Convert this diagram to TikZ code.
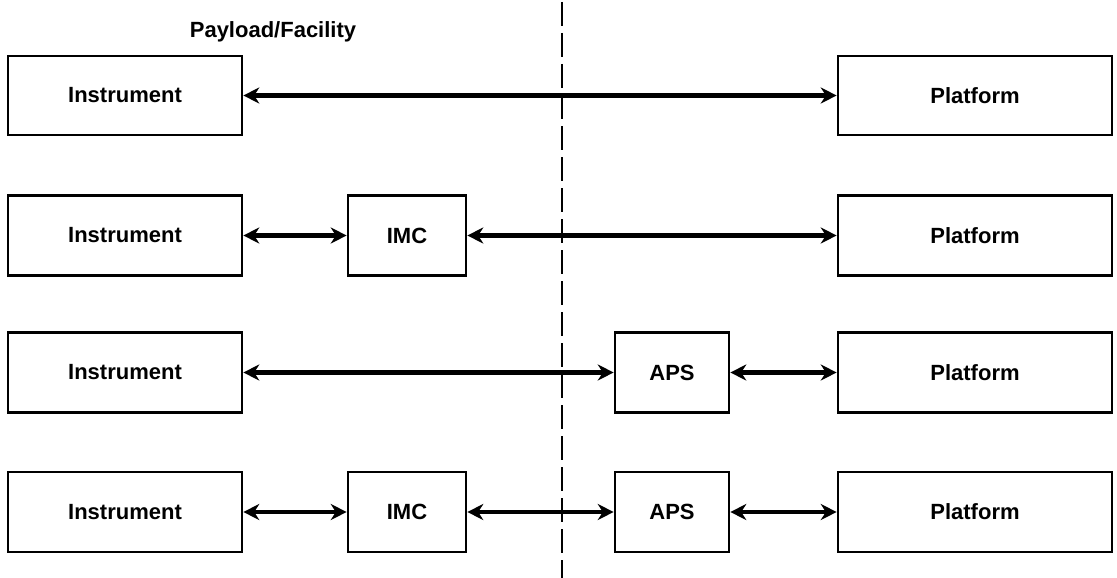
\documentclass[tikz,border=0pt]{standalone}
\usepackage{fontspec}
\setmainfont{Liberation Sans}
\usetikzlibrary{arrows.meta}
\begin{document}
\begin{tikzpicture}[x=1pt,y=-1pt,
  box/.style={draw,line width=2.6pt,inner sep=0pt,font=\fontsize{22}{26}\selectfont\bfseries},
  link/.style={line width=4.5pt,{Stealth[length=16pt,width=16pt]}-{Stealth[length=16pt,width=16pt]}}]
\useasboundingbox (0,0) rectangle (1117,578);
% divider
\coordinate (dtop) at (562,2);
\coordinate (dbot) at (562,578);
\draw[line width=2.6pt,dash pattern=on 24pt off 7pt] (dtop) -- (dbot);
\node[font=\fontsize{22}{26}\selectfont\bfseries] (title) at (273,32) {Payload/Facility};
% row 1
\node[box,minimum width=234pt,minimum height=79pt] (i1) at (125,95.5) {Instrument};
\node[box,minimum width=274pt,minimum height=79pt] (p1) at (975,95.5) {Platform};
% row 2
\node[box,minimum width=234pt,minimum height=80pt] (i2) at (125,235.5) {Instrument};
\node[box,minimum width=118pt,minimum height=80pt] (m2) at (407,235.5) {IMC};
\node[box,minimum width=274pt,minimum height=80pt] (p2) at (975,235.5) {Platform};
% row 3
\node[box,minimum width=234pt,minimum height=80pt] (i3) at (125,372.5) {Instrument};
\node[box,minimum width=114pt,minimum height=80pt] (a3) at (672,372.5) {APS};
\node[box,minimum width=274pt,minimum height=80pt] (p3) at (975,372.5) {Platform};
% row 4
\node[box,minimum width=234pt,minimum height=80pt] (i4) at (125,512) {Instrument};
\node[box,minimum width=118pt,minimum height=80pt] (m4) at (407,512) {IMC};
\node[box,minimum width=114pt,minimum height=80pt] (a4) at (672,512) {APS};
\node[box,minimum width=274pt,minimum height=80pt] (p4) at (975,512) {Platform};
% links
\draw[link] (i1) -- (p1);
\draw[link] (i2) -- (m2);
\draw[link] (m2) -- (p2);
\draw[link] (i3) -- (a3);
\draw[link] (a3) -- (p3);
\draw[link] (i4) -- (m4);
\draw[link] (m4) -- (a4);
\draw[link] (a4) -- (p4);
\end{tikzpicture}
\end{document}
